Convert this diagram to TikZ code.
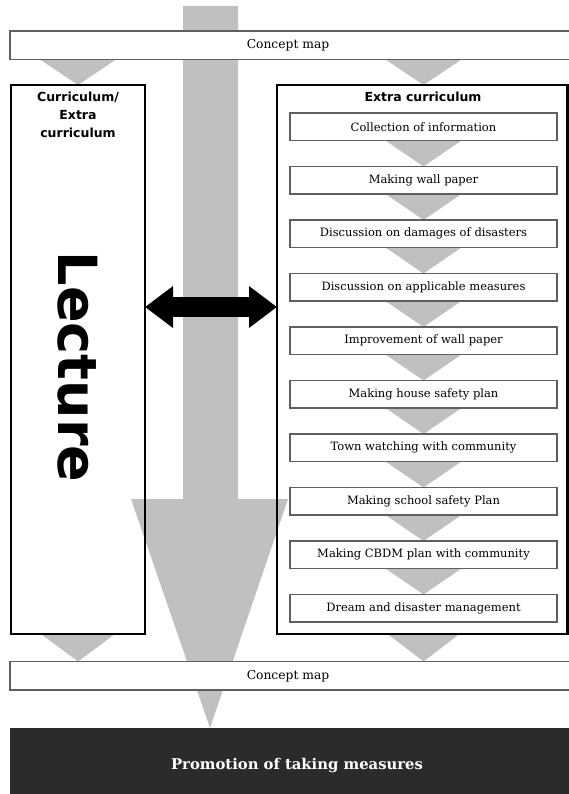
\documentclass[tikz,border=0pt]{standalone}
\usepackage{fontspec}
\setmainfont{DejaVu Serif}
\newfontfamily\headfont{DejaVu Sans}
\usetikzlibrary{arrows.meta,calc}
\definecolor{arrowgray}{RGB}{192,192,192}
\definecolor{boxline}{RGB}{95,95,95}
\definecolor{darkbox}{RGB}{43,43,43}
\pgfdeclarelayer{bg}
\pgfsetlayers{bg,main}
\begin{document}
\begin{tikzpicture}[x=1pt,y=-1pt,
  cmap/.style={draw=boxline,line width=1.2pt,fill=white,minimum width=562,minimum height=28.5,
    anchor=north west,inner sep=0pt,outer sep=0pt,font=\fontsize{12.3}{14}\selectfont},
  bigbox/.style={draw=black,line width=2.8pt,anchor=north west,inner sep=0pt,outer sep=0pt},
  stepbox/.style={draw=boxline,line width=1.1pt,fill=white,minimum width=267,minimum height=27.5,
    anchor=north west,inner sep=0pt,outer sep=0pt,font=\fontsize{11.5}{13}\selectfont},
  tri/.style={fill=arrowgray},
  head/.style={font=\headfont\bfseries\fontsize{12.5}{18}\selectfont,inner sep=0pt}]
\useasboundingbox (0,0) rectangle (569,794);
\clip (0,0) rectangle (569,794);

% concept maps
\node[cmap] (cm1) at (10,31) {\hspace*{-6pt}Concept map};
\node[cmap] (cm2) at (10,661.5) {\hspace*{-6pt}Concept map};

% big boxes
\node[bigbox,minimum width=134,minimum height=549] (L) at (11,85) {};
\node[bigbox,minimum width=290.5,minimum height=549] (R) at (277,85) {};

% steps
\foreach \t [count=\n] in {Collection of information,Making wall paper,Discussion on damages of disasters,Discussion on applicable measures,Improvement of wall paper,Making house safety plan,Town watching with community,Making school safety Plan,Making CBDM plan with community,Dream and disaster management}
  \node[stepbox] (b\n) at (290,{113+53.5*(\n-1)}) {\t};

% headers
\node[head,align=center] (lh) at (78,115) {Curriculum/\\Extra\\curriculum};
\node[head] (rh) at (423,97) {Extra curriculum};
\node[font=\headfont\bfseries\fontsize{54}{54}\selectfont,rotate=-90,inner sep=0pt] (lec) at (78,367) {Lecture};

% bottom dark box
\node[fill=darkbox,minimum width=575,minimum height=66,anchor=north west,inner sep=0pt,outer sep=0pt] (pm) at (10,728) {};
\node[text=white,font=\bfseries\fontsize{14.8}{16}\selectfont,inner sep=0pt] (pmt) at (297,766) {Promotion of taking measures};

% gray arrows in background
\begin{pgfonlayer}{bg}
  \fill[arrowgray] (183,6) -- (238,6) -- (238,499) -- (288,499) -- (pm.north -| 210,0) -- (131,499) -- (183,499) -- cycle;
  \fill[tri] ($(cm1.south -| L.north)+(-38,0)$) -- ($(cm1.south -| L.north)+(38,0)$) -- (L.north) -- cycle;
  \fill[tri] ($(cm1.south -| b1.north)+(-38,0)$) -- ($(cm1.south -| b1.north)+(38,0)$) -- (R.north -| b1.north) -- cycle;
  \foreach \i [evaluate=\i as \j using int(\i+1)] in {1,...,9}
    \fill[tri] ($(b\i.south)+(-38,0)$) -- ($(b\i.south)+(38,0)$) -- (b\j.north) -- cycle;
  \fill[tri] ($(L.south)+(-37,0)$) -- ($(L.south)+(37,0)$) -- (L.south |- cm2.north) -- cycle;
  \fill[tri] ($(R.south -| b10.south)+(-36,0)$) -- ($(R.south -| b10.south)+(36,0)$) -- (cm2.north -| b10.south) -- cycle;
\end{pgfonlayer}

% double arrow between the boxes
\coordinate (dl) at (L.east |- 0,307);
\coordinate (dr) at (R.west |- 0,307);
\draw[line width=20pt,{Triangle[length=28pt,width=40pt]}-{Triangle[length=28pt,width=40pt]}] (dl) -- (dr);
\end{tikzpicture}
\end{document}
